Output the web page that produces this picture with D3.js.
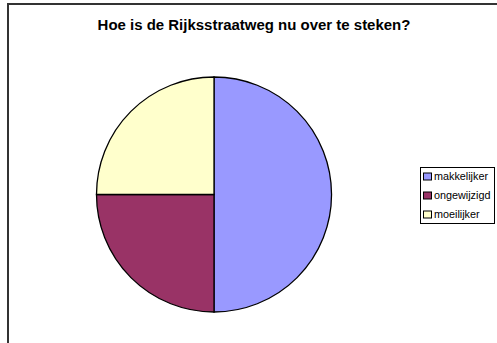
<!DOCTYPE html>
<html>
<head>
<meta charset="utf-8">
<script src="https://cdn.jsdelivr.net/npm/d3@7"></script>
<style>
  body { margin: 0; background: #fff; }
  svg { display: block; font-family: "Liberation Sans", Arial, sans-serif; }
</style>
</head>
<body>
<svg id="chart" width="497" height="343"></svg>
<script>
// chart values
const categories = ["makkelijker", "ongewijzigd", "moeilijker"];
const values = [50, 25, 25];
const colors = ["#9999FF", "#993366", "#FFFFCC"];
const title = "Hoe is de Rijksstraatweg nu over te steken?";

const width = 497, height = 343;
const cx = 214, cy = 194.5, radius = 117.5;

const svg = d3.select("#chart");

// chart area frame (left + top edge visible, rest runs off the picture)
svg.append("rect")
    .attr("x", 8)
    .attr("y", 4)
    .attr("width", width + 10)
    .attr("height", height + 10)
    .attr("fill", "#fff")
    .attr("stroke", "#333")
    .attr("stroke-width", 2);

const titleText = svg.append("text")
    .attr("x", 254)
    .attr("y", 30)
    .attr("text-anchor", "middle")
    .attr("font-size", 13)
    .attr("font-weight", "bold")
    .text(title);

// fit title to the width seen in the picture
const tw = titleText.node().getComputedTextLength();
titleText.attr("font-size", 13 * 313 / tw);

const data = categories.map((c, i) => ({name: c, value: values[i], color: colors[i]}));

const pie = d3.pie()
    .value(d => d.value)
    .sort(null);

const arc = d3.arc()
    .innerRadius(0)
    .outerRadius(radius);

svg.append("g")
    .attr("transform", `translate(${cx},${cy})`)
  .selectAll("path")
  .data(pie(data))
  .join("path")
    .attr("d", arc)
    .attr("fill", d => d.data.color)
    .attr("stroke", "#000")
    .attr("stroke-width", 1.3);

// legend
const legend = svg.append("g");
legend.append("rect")
    .attr("x", 420.5)
    .attr("y", 167.5)
    .attr("width", 74)
    .attr("height", 56)
    .attr("fill", "#fff")
    .attr("stroke", "#000")
    .attr("stroke-width", 1);

const ly = d3.scalePoint()
    .domain(categories)
    .range([176.5, 214.5]);

const item = legend.selectAll("g.item")
  .data(data)
  .join("g")
    .attr("class", "item")
    .attr("transform", d => `translate(0,${ly(d.name)})`);

item.append("rect")
    .attr("x", 423.5)
    .attr("y", -3.5)
    .attr("width", 8)
    .attr("height", 7)
    .attr("fill", d => d.color)
    .attr("stroke", "#000")
    .attr("stroke-width", 1);

item.append("text")
    .attr("x", 434)
    .attr("y", 3.8)
    .attr("font-size", 10.8)
    .text(d => d.name);
</script>
</body>
</html>
